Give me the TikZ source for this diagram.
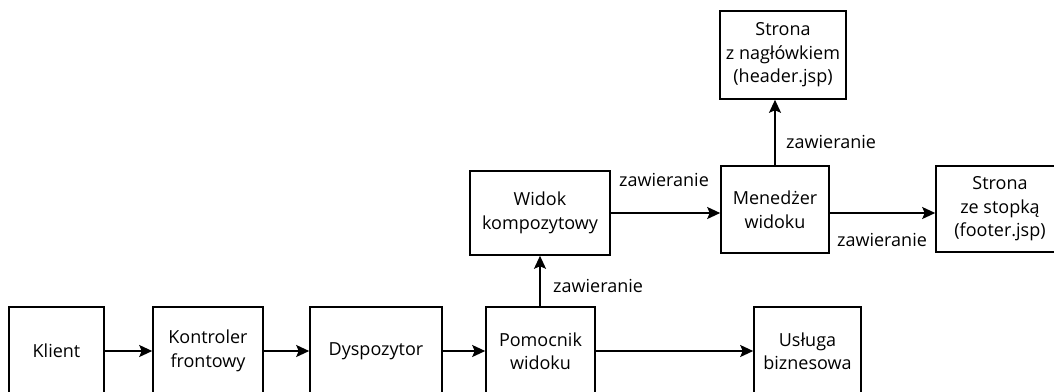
\documentclass[tikz,border=0pt]{standalone}
\usepackage{fontspec}
\setmainfont{Open Sans}
\usetikzlibrary{arrows.meta,positioning}
\begin{document}
\begin{tikzpicture}[x=1bp,y=-1bp,
  box/.style={draw,line width=1.6bp,inner sep=0pt,align=center,font=\fontsize{18bp}{23.5bp}\selectfont},
  arr/.style={line width=1.6bp,-{Stealth[length=13bp,width=12bp,inset=2.5bp]}},
  lbl/.style={font=\fontsize{18bp}{23.5bp}\selectfont,inner sep=0pt}]
\useasboundingbox (0,0) rectangle (1054,391);
\clip (0,0) rectangle (1054,391);
\node[box,minimum width=95bp,minimum height=88bp] (klient) at (56.5,351) {Klient};
\node[box,minimum width=110bp,minimum height=88bp] (kontroler) at (208,351) {Kontroler\\frontowy};
\node[box,minimum width=132bp,minimum height=88bp] (dysp) at (376,351) {Dyspozytor};
\node[box,minimum width=109bp,minimum height=88bp] (pomocnik) at (540.5,351) {Pomocnik\\widoku};
\node[box,minimum width=107bp,minimum height=88bp] (usluga) at (807.5,351) {Usługa\\biznesowa};
\node[box,minimum width=140bp,minimum height=84bp] (widok) at (540,213) {Widok\\kompozytowy};
\node[box,minimum width=108bp,minimum height=87bp] (menedzer) at (775,209.5) {Menedżer\\widoku};
\node[box,minimum width=126bp,minimum height=88bp] (header) at (783,55) {Strona\\z nagłówkiem\\(header.jsp)};
\node[box,minimum width=128bp,minimum height=86bp] (footer) at (1000,209) {Strona\\ze stopką\\(footer.jsp)};
\draw[arr] (klient.east) -- (kontroler.west);
\draw[arr] (kontroler.east) -- (dysp.west);
\draw[arr] (dysp.east) -- (pomocnik.west);
\draw[arr] (pomocnik.east) -- (usluga.west);
\draw[arr] (pomocnik.north -| widok.south) -- (widok.south);
\draw[arr] (widok.east) -- (widok.east -| menedzer.west);
\draw[arr] (menedzer.north) -- (menedzer.north |- header.south);
\draw[arr] (menedzer.east |- widok.east) -- (footer.west |- widok.east);
\node[lbl] (l1) at (553,286) [anchor=west] {zawieranie};
\node[lbl] (l2) at (664,180) {zawieranie};
\node[lbl] (l3) at (786,142) [anchor=west] {zawieranie};
\node[lbl] (l4) at (882,240) {zawieranie};
\end{tikzpicture}
\end{document}
